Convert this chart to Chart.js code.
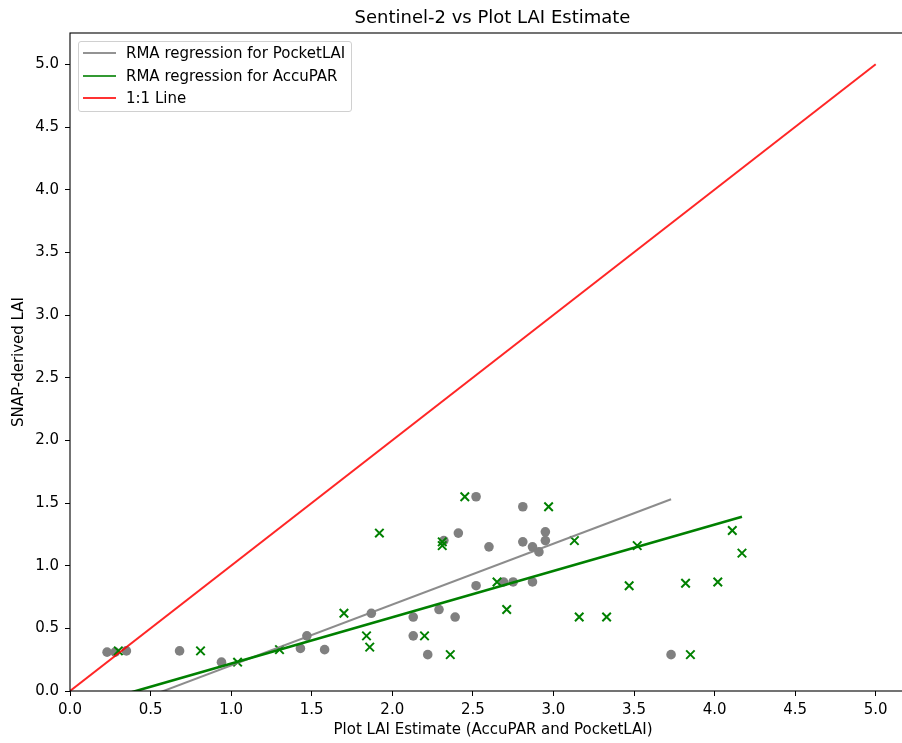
<!DOCTYPE html>
<html>
<head>
<meta charset="utf-8">
<script src="https://cdn.jsdelivr.net/npm/chart.js@4"></script>
<style>
  html, body { margin: 0; padding: 0; background: #fff; overflow: hidden; }
  #wrap { position: relative; width: 924px; height: 743px; }
  .title { position: absolute; left: 0; width: 985px; top: 6px; text-align: center;
           font: 18px "DejaVu Sans", sans-serif; color: #000; }
  .legend { position: absolute; left: 78px; top: 41px; width: 274px; height: 71px;
            border: 1px solid #d0d0d0; border-radius: 3px; background: rgba(255,255,255,0.8);
            font: 15px "DejaVu Sans", sans-serif; color: #000; box-sizing: border-box; }
  .legend .item { position: absolute; left: 0; height: 20px; }
  .legend .swatch { position: absolute; left: 4px; top: 9px; width: 33px; height: 2px; }
  .legend .label { position: absolute; left: 47px; top: 0; white-space: nowrap; line-height: 20px; }
</style>
</head>
<body>
<div id="wrap">
  <canvas id="chart"></canvas>
  <div class="title">Sentinel-2 vs Plot LAI Estimate</div>
  <div class="legend">
    <div class="item" style="top:1px"><div class="swatch" style="background:rgba(128,128,128,0.85)"></div><div class="label">RMA regression for PocketLAI</div></div>
    <div class="item" style="top:24px"><div class="swatch" style="background:rgba(0,128,0,0.8)"></div><div class="label">RMA regression for AccuPAR</div></div>
    <div class="item" style="top:46px"><div class="swatch" style="background:rgba(255,0,0,0.8)"></div><div class="label">1:1 Line</div></div>
  </div>
</div>
<script>
// ===== DATA =====
const pocketX = [0.23, 0.28, 0.35, 0.68, 0.94, 1.43, 1.47, 1.58, 1.87, 2.13, 2.13, 2.22, 2.29, 2.32, 2.39, 2.41, 2.52, 2.52, 2.60, 2.69, 2.75, 2.81, 2.81, 2.87, 2.87, 2.91, 2.95, 2.95, 3.73];
const pocketY = [0.31, 0.31, 0.32, 0.32, 0.23, 0.34, 0.44, 0.33, 0.62, 0.59, 0.44, 0.29, 0.65, 1.20, 0.59, 1.26, 1.55, 0.84, 1.15, 0.87, 0.87, 1.47, 1.19, 1.15, 0.87, 1.11, 1.20, 1.27, 0.29];

const accuX = [0.30, 0.81, 1.04, 1.30, 1.70, 1.84, 1.86, 1.92, 2.20, 2.31, 2.31, 2.36, 2.45, 2.65, 2.71, 2.97, 3.13, 3.16, 3.33, 3.47, 3.52, 3.82, 3.85, 4.02, 4.11, 4.17];
const accuY = [0.32, 0.32, 0.23, 0.33, 0.62, 0.44, 0.35, 1.26, 0.44, 1.19, 1.16, 0.29, 1.55, 0.87, 0.65, 1.47, 1.20, 0.59, 0.59, 0.84, 1.16, 0.86, 0.29, 0.87, 1.28, 1.10];

// RMA regression line end points
const pocketLineX = [0.23, 3.73];
const pocketLineY = [-0.17, 1.53];
const accuLineX = [0.30, 4.17];
const accuLineY = [-0.04, 1.39];
const oneLineX = [0, 5];
const oneLineY = [0, 5];

const tickValues = [0, 0.5, 1, 1.5, 2, 2.5, 3, 3.5, 4, 4.5, 5];

const pts = (xs, ys) => xs.map((x, i) => ({ x, y: ys[i] }));

const FONT = '"DejaVu Sans", sans-serif';

// draws the axes frame (matplotlib spines)
const framePlugin = {
  id: 'frame',
  afterDraw(chart) {
    const { ctx, chartArea: a } = chart;
    ctx.save();
    ctx.strokeStyle = '#000';
    ctx.lineWidth = 1.1;
    ctx.strokeRect(a.left, a.top, a.right - a.left, a.bottom - a.top);
    ctx.restore();
  }
};

const axisCommon = (title, padding) => ({
  type: 'linear',
  min: 0,
  max: 5.25,
  afterBuildTicks(scale) { scale.ticks = tickValues.map(v => ({ value: v })); },
  grid: { display: true, drawOnChartArea: false, drawTicks: true, tickLength: 5, color: '#000', tickWidth: 1 },
  border: { display: false },
  ticks: { color: '#000', font: { family: FONT, size: 15 }, padding: 5, callback: v => v.toFixed(1) },
  title: { display: true, text: title, color: '#000', font: { family: FONT, size: 15 }, padding }
});

const xAxis = axisCommon('Plot LAI Estimate (AccuPAR and PocketLAI)', { top: 0, bottom: 4 });
xAxis.afterFit = s => { s.height = 52; };
const yAxis = axisCommon('SNAP-derived LAI', { top: 10, bottom: 0 });
yAxis.afterFit = s => { s.width = 70; };
yAxis.ticks.padding = 6;

new Chart(document.getElementById('chart').getContext('2d'), {
  type: 'scatter',
  data: {
    datasets: [
      {
        label: '1:1 Line',
        data: pts(oneLineX, oneLineY),
        showLine: true,
        borderColor: 'rgba(255,0,0,0.85)',
        borderWidth: 2,
        pointRadius: 0
      },
      {
        label: 'RMA regression for AccuPAR',
        data: pts(accuLineX, accuLineY),
        showLine: true,
        borderColor: '#008000',
        borderWidth: 2.6,
        pointRadius: 0
      },
      {
        label: 'RMA regression for PocketLAI',
        data: pts(pocketLineX, pocketLineY),
        showLine: true,
        borderColor: 'rgba(128,128,128,0.9)',
        borderWidth: 2,
        pointRadius: 0
      },
      {
        label: 'AccuPAR',
        data: pts(accuX, accuY),
        pointStyle: 'crossRot',
        pointRadius: 6,
        borderColor: '#008000',
        borderWidth: 2
      },
      {
        label: 'PocketLAI',
        data: pts(pocketX, pocketY),
        pointStyle: 'circle',
        pointRadius: 4.8,
        backgroundColor: '#808080',
        borderWidth: 0
      }
    ]
  },
  options: {
    responsive: true,
    maintainAspectRatio: false,
    animation: false,
    layout: { padding: { top: 33, right: 5, left: 0, bottom: 0 } },
    plugins: {
      legend: { display: false },
      tooltip: { enabled: false }
    },
    scales: { x: xAxis, y: yAxis }
  },
  plugins: [framePlugin]
});
</script>
</body>
</html>
